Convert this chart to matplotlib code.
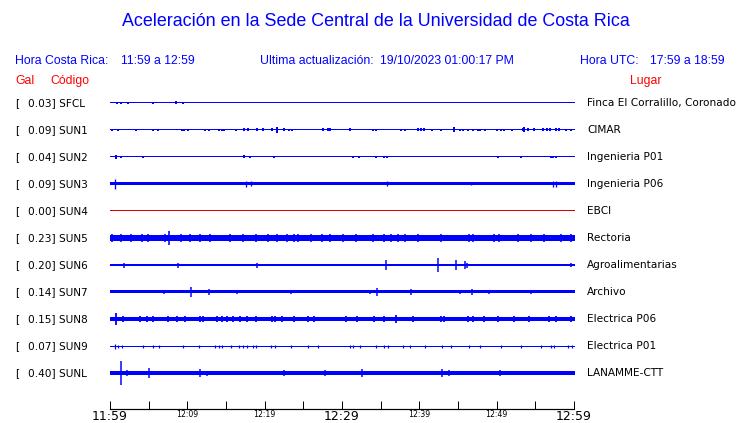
import matplotlib
matplotlib.use('Agg')
import matplotlib.pyplot as plt

# station data (amplitudes in screen pixels, times in minutes after 11:59)
codes = ['SFCL', 'SUN1', 'SUN2', 'SUN3', 'SUN4', 'SUN5', 'SUN6', 'SUN7', 'SUN8', 'SUN9', 'SUNL']
gal = [0.03, 0.09, 0.04, 0.09, 0.00, 0.23, 0.20, 0.14, 0.15, 0.07, 0.40]
places = ['Finca El Corralillo, Coronado', 'CIMAR', 'Ingenieria P01', 'Ingenieria P06', 'EBCI',
          'Rectoria', 'Agroalimentarias', 'Archivo', 'Electrica P06', 'Electrica P01', 'LANAMME-CTT']
base = [0.5, 0.5, 0.5, 1.5, 0.5, 2.6, 1.3, 1.5, 2.0, 0.5, 1.7]

spike_t = [
    [0.9, 1.4, 2.3, 5.6, 8.5, 9.4],
    [0.3, 1.0, 3.4, 5.6, 6.2, 9.3, 9.6, 10.1, 12.3, 12.8, 14.0, 14.4, 14.7, 16.3, 17.3, 17.8,
     19.0, 19.8, 20.9, 21.6, 22.4, 23.1, 23.5, 27.5, 28.1, 28.4, 31.0, 33.9, 34.3, 37.5, 38.1,
     39.7, 40.1, 40.5, 41.6, 42.7, 44.4, 45.1, 45.6, 46.2, 46.9, 47.5, 47.8, 48.4, 49.9, 50.4,
     50.8, 51.9, 53.3, 53.4, 53.9, 54.7, 55.9, 56.4, 56.8, 57.5, 57.9, 58.8, 59.5],
    [0.8, 1.4, 4.3, 17.3, 18.1, 21.2, 31.4, 32.1, 34.3, 35.3, 35.8, 50.0, 53.0, 56.9, 57.2, 57.5],
    [0.6, 17.5, 18.2, 35.7, 46.6, 57.2, 57.5],
    [],
    [0.3, 1.4, 2.7, 4.1, 4.9, 7.1, 7.6, 9.1, 10.3, 11.6, 12.9, 15.5, 17.1, 18.8, 20.4, 21.6, 22.9,
     23.7, 24.3, 25.9, 27.4, 28.4, 30.1, 31.7, 33.9, 35.3, 36.2, 37.1, 38.1, 39.7, 42.7, 46.3,
     46.9, 49.5, 50.2, 52.6, 54.3, 56.0, 58.2, 59.5],
    [1.8, 8.8, 19.0, 35.6, 42.3, 44.6, 45.8, 46.0, 59.5],
    [7.0, 10.5, 12.8, 16.4, 23.3, 33.6, 34.5, 38.9, 45.1, 46.7, 48.9, 54.3],
    [0.8, 1.7, 3.9, 4.8, 5.6, 7.5, 8.7, 9.7, 11.6, 12.0, 13.8, 14.4, 15.1, 15.9, 16.8, 17.7, 18.8,
     20.9, 21.3, 22.2, 23.7, 25.6, 26.3, 30.4, 31.9, 34.0, 35.3, 36.9, 39.1, 42.7, 43.1, 46.2,
     46.8, 48.2, 50.0, 52.1, 54.1, 56.6, 57.5, 59.5],
    [0.6, 1.0, 1.6, 4.3, 5.6, 6.3, 9.4, 11.5, 13.6, 14.0, 14.5, 15.6, 16.6, 17.2, 17.7, 18.5,
     18.8, 20.8, 21.3, 23.3, 25.6, 26.8, 31.0, 31.4, 32.3, 34.3, 35.3, 35.9, 37.8, 38.7, 40.7,
     42.9, 44.0, 46.3, 47.8, 50.4, 53.0, 55.6, 56.9, 57.3, 59.1, 59.6],
    [1.4, 2.2, 5.0, 11.6, 12.5, 16.6, 20.9, 22.4, 22.9, 23.5, 27.7, 32.5, 35.0, 36.6, 41.0, 42.8,
     43.8, 50.3, 50.9, 55.6, 57.5, 59.5],
]
spike_h = [
    [1.3, 1.3, 1, 1.3, 1.5, 1],
    [1.3, 1.3, 1, 1.3, 1, 1.3, 1.3, 1.3, 1.3, 1.3, 1.3, 1.3, 1.3, 1, 1.5, 1.5, 1.5, 1.5, 1.5,
     3, 1.5, 1.3, 1.3, 1.5, 1.5, 1.5, 1.5, 1.3, 1.3, 1, 1, 1.5, 1.5, 1.5, 1.3, 1.3, 2.5, 1, 1,
     1, 1.3, 1.3, 1.3, 1.3, 1.3, 1.3, 1.3, 1, 1.5, 2.5, 1.5, 1.5, 1.5, 1.5, 1.5, 1.5, 1.5, 1.3,
     1.3],
    [1.8, 1.3, 1, 1.5, 1.3, 0.8, 1, 1, 1, 1, 1.3, 1, 0.8, 1.3, 1.3, 1.3],
    [5, 3, 2.5, 2.5, 1.5, 3, 3],
    [],
    [3.8, 3.8, 3.8, 3.8, 4.2, 3.8, 7, 3.8, 3.8, 3.8, 3.8, 3.8, 3.8, 3.8, 3.8, 3.8, 3.8, 3.8,
     3.8, 3.8, 3.8, 3.8, 3.8, 3.8, 3.8, 3.8, 4.2, 3.8, 3.8, 3.8, 3.8, 4.2, 3.8, 3.8, 3.8, 3.8,
     3.8, 3.8, 3.8, 3.8],
    [2.5, 2.5, 2.5, 5, 7, 5, 4, 2.5, 2.2],
    [2, 5, 3, 2, 2, 2, 4, 3, 2, 3, 2, 2],
    [6, 3.2, 3.2, 3.2, 3.2, 3.2, 3.2, 3.2, 3.2, 3.2, 3.2, 3.2, 3.2, 3.2, 3.2, 3.2, 3.2, 3.2,
     3.2, 3.2, 3.2, 3.2, 3.2, 3.2, 3.2, 3.2, 3.2, 3.8, 3.2, 3.2, 3.2, 3.2, 3.2, 3.2, 3.2, 3.2,
     3.2, 3.2, 3.2, 3.2],
    [2.5, 1.5, 1.5, 1.5, 1.5, 1.5, 1.5, 1.5, 1.5, 1.5, 1.5, 1.5, 1.5, 1.5, 1.5, 1.5, 1.5, 1.5,
     1.5, 1.5, 1.5, 1.5, 1.5, 1.5, 1.5, 1.5, 1.5, 1.5, 1.5, 1.5, 1.5, 1.5, 1.5, 1.5, 1.5, 1.5,
     1.5, 1.5, 1.5, 1.5, 1.5, 1.5],
    [12, 3, 5, 4, 2.5, 2, 2, 3, 2, 2, 3, 4, 2, 2, 2, 4, 3, 3, 2, 2, 2, 2],
]
spike_w = [2.0, 2.0, 2.0, 1.3, 1.0, 1.6, 1.5, 1.5, 1.8, 1.2, 1.5]

tick_min = list(range(0, 61, 5))
tick_lbl = {0: '11:59', 10: '12:09', 20: '12:19', 30: '12:29', 40: '12:39', 50: '12:49', 60: '12:59'}
big_lbl = [0, 30, 60]

W, H = 740, 423
BLUE = '#0000ff'
RED = '#ff0000'
PX = 0.72  # one pixel in points

fig = plt.figure(figsize=(W / 100, H / 100), dpi=100)


def fx(x):
    return x / W


def fy(y):
    return 1 - y / H


sans = 'Liberation Sans'
fig.text(fx(376), fy(22), 'Aceleración en la Sede Central de la Universidad de Costa Rica',
         ha='center', va='center', color=BLUE, fontsize=12.85, family=sans)
fig.text(fx(15), fy(61), 'Hora Costa Rica:', ha='left', va='center', color=BLUE, fontsize=8.8, family=sans)
fig.text(fx(121), fy(61), '11:59 a 12:59', ha='left', va='center', color=BLUE, fontsize=8.8, family=sans)
fig.text(fx(260), fy(61), 'Ultima actualización:', ha='left', va='center', color=BLUE, fontsize=8.8, family=sans)
fig.text(fx(380), fy(61), '19/10/2023 01:00:17 PM', ha='left', va='center', color=BLUE, fontsize=8.8, family=sans)
fig.text(fx(580), fy(61), 'Hora UTC:', ha='left', va='center', color=BLUE, fontsize=8.8, family=sans)
fig.text(fx(650), fy(61), '17:59 a 18:59', ha='left', va='center', color=BLUE, fontsize=8.8, family=sans)
fig.text(fx(15), fy(81), 'Gal', ha='left', va='center', color=RED, fontsize=8.8, family=sans)
fig.text(fx(50), fy(81), 'Código', ha='left', va='center', color=RED, fontsize=8.8, family=sans)
fig.text(fx(630), fy(81), 'Lugar', ha='left', va='center', color=RED, fontsize=8.8, family=sans)

# traces, y in pixels, rows every 27 px
ax = fig.add_axes([fx(110), fy(386), fx(465), 296 / H])
ax.set_xlim(0, 60)
ax.set_ylim(283, -13)
ax.axis('off')

for i, code in enumerate(codes):
    yc = i * 27
    col = '#dd0000' if gal[i] == 0 else BLUE
    ax.fill_between([0, 60], yc - base[i], yc + base[i], color=col, lw=0)
    if spike_t[i]:
        ax.vlines(spike_t[i], [yc - h for h in spike_h[i]], [yc + h for h in spike_h[i]],
                  color=col, lw=spike_w[i] * PX, clip_on=False)
    ypix = 103 + yc
    fig.text(fx(15), fy(ypix), '[', ha='left', va='center', fontsize=7.6)
    fig.text(fx(28), fy(ypix), '%.2f] %s' % (gal[i], code), ha='left', va='center', fontsize=7.6)
    fig.text(fx(587), fy(ypix), places[i], ha='left', va='center', fontsize=7.6)

# time axis
tax = fig.add_axes([fx(110), fy(409), fx(464), 0.01])
tax.set_xlim(0, 60)
tax.set_ylim(0, 1)
for s in ['top', 'left', 'right']:
    tax.spines[s].set_visible(False)
tax.spines['bottom'].set_linewidth(PX * 1.2)
tax.set_yticks([])
tax.set_xticks(tick_min)
tax.set_xticklabels([tick_lbl.get(m, '') for m in tick_min])
tax.tick_params(axis='x', direction='in', length=8 * PX, width=PX, pad=1)
for m, lab in zip(tick_min, tax.get_xticklabels()):
    lab.set_fontsize(9 if m in big_lbl else 5.6)

fig.savefig('out.png', dpi=100)
